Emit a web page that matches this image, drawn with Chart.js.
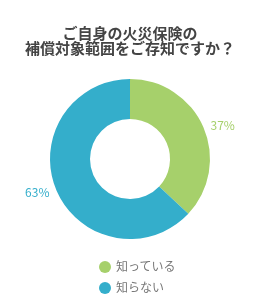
<!DOCTYPE html>
<html>
<head>
<meta charset="utf-8">
<script src="https://cdn.jsdelivr.net/npm/chart.js@4"></script>
<style>
  html, body { margin: 0; padding: 0; background: #fff; }
  #wrap { position: relative; width: 260px; height: 300px; }
  #legend { position: absolute; left: 99px; top: 255px; font-family: "Noto Sans CJK JP", sans-serif; font-size: 12px; color: #777; }
  #legend div { height: 21px; line-height: 21px; white-space: nowrap; }
  #legend span.dot { display: inline-block; width: 12px; height: 12px; border-radius: 50%; vertical-align: -2px; margin-right: 5px; }
</style>
</head>
<body>
<div id="wrap">
  <canvas id="chart" width="260" height="300"></canvas>
  <div id="legend"></div>
</div>
<script>
const titleLines = ['ご自身の火災保険の', '補償対象範囲をご存知ですか？'];
const categories = ['知っている', '知らない'];
const values = [37, 63];
const colors = ['#a6d06b', '#34aecb'];

// % labels outside the ring
const outsideLabels = {
  id: 'outsideLabels',
  afterDatasetsDraw(chart) {
    const ctx = chart.ctx;
    const meta = chart.getDatasetMeta(0);
    ctx.save();
    ctx.font = '12px "Noto Sans CJK JP", sans-serif';
    ctx.textAlign = 'center';
    ctx.textBaseline = 'middle';
    meta.data.forEach((arc, i) => {
      const mid = (arc.startAngle + arc.endAngle) / 2;
      const r = arc.outerRadius + 21;
      const x = arc.x + Math.cos(mid) * r;
      const y = arc.y + Math.sin(mid) * r * 0.84;
      ctx.fillStyle = colors[i];
      ctx.fillText(values[i] + '%', x, y);
    });
    ctx.restore();
  }
};

new Chart(document.getElementById('chart'), {
  type: 'doughnut',
  data: {
    labels: categories,
    datasets: [{
      data: values,
      backgroundColor: colors,
      borderWidth: 0
    }]
  },
  options: {
    responsive: false,
    animation: false,
    cutout: '50%',
    layout: { padding: { top: 0, bottom: 61, left: 0, right: 0 } },
    plugins: {
      legend: { display: false },
      tooltip: { enabled: false },
      title: {
        display: true,
        text: titleLines,
        color: '#444',
        font: { family: '"Noto Sans CJK JP", sans-serif', size: 15, weight: 'bold', lineHeight: 1.0 },
        padding: { top: 26, bottom: 23 }
      }
    }
  },
  plugins: [outsideLabels]
});

const legend = document.getElementById('legend');
categories.forEach((c, i) => {
  const row = document.createElement('div');
  row.innerHTML = '<span class="dot" style="background:' + colors[i] + '"></span>' + c;
  legend.appendChild(row);
});
</script>
</body>
</html>
